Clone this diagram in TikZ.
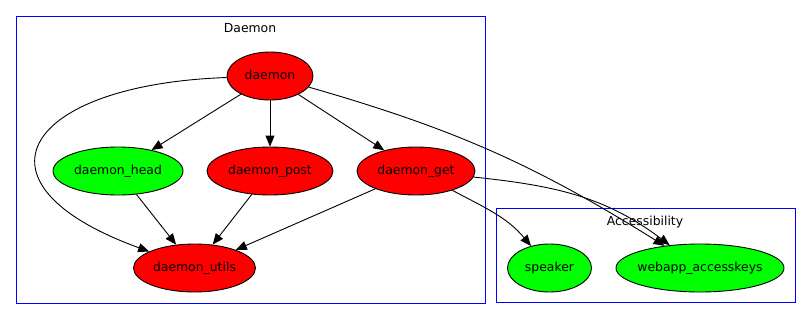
\documentclass[tikz,border=0pt]{standalone}
\usepackage{fontspec}
\setmainfont{DejaVu Sans}
\usepackage{tikz}
\usetikzlibrary{arrows.meta,shapes.geometric}

\begin{document}
\begin{tikzpicture}[
    x=1pt, y=1pt,
    every node/.style={font=\fontsize{12.4}{14}\selectfont},
    mod/.style={draw, ellipse, line width=0.9pt, inner sep=0pt, minimum height=48pt, text height=9.5pt, text depth=2.5pt},
    bad/.style={mod, fill={rgb,255:red,255;green,0;blue,0}},
    good/.style={mod, fill={rgb,255:red,0;green,255;blue,0}},
    cluster/.style={draw={rgb,255:red,0;green,0;blue,255}, line width=0.9pt},
    clab/.style={inner sep=0pt, anchor=base},
    arrow/.style={-{Triangle[length=11pt,width=9pt]}, line width=0.9pt}
  ]
    \useasboundingbox (0,0) rectangle (811,-319);

    % clusters
    \draw[cluster] (16,-16) rectangle (485,-303);
    \draw[cluster] (496,-208) rectangle (795,-302);
    \node[clab] (ldaemon) at (250,-32)  {Daemon};
    \node[clab] (lacc)    at (645,-225) {Accessibility};

    \node[bad, minimum width=86pt]   (daemon) at (270,-76)   {daemon};
    \node[good, minimum width=130pt] (head)   at (118,-171)  {daemon\_head};
    \node[bad, minimum width=126pt]  (post)   at (270,-171)  {daemon\_post};
    \node[bad, minimum width=118pt]  (get)    at (416,-171)  {daemon\_get};
    \node[bad, minimum width=122pt]  (utils)  at (194.5,-268) {daemon\_utils};
    \node[good, minimum width=84pt]  (speaker) at (549.5,-268) {speaker};
    \node[good, minimum width=168pt, inner xsep=-4pt] (keys) at (700,-268) {webapp\_accesskeys};

    \draw[arrow] (daemon) -- (head);
    \draw[arrow] (daemon) -- (post);
    \draw[arrow] (daemon) -- (get);
    \draw[arrow] (daemon) to[out=182,in=160,looseness=2.7] (utils);
    \draw[arrow] (daemon) to[out=-16,in=148] (keys);
    \draw[arrow] (head) -- (utils);
    \draw[arrow] (post) -- (utils);
    \draw[arrow] (get) -- (utils);
    \draw[arrow] (get) to[out=-6,in=143] (keys);
    \draw[arrow] (get) to[out=-28,in=130] (speaker);
  \end{tikzpicture}
\end{document}
